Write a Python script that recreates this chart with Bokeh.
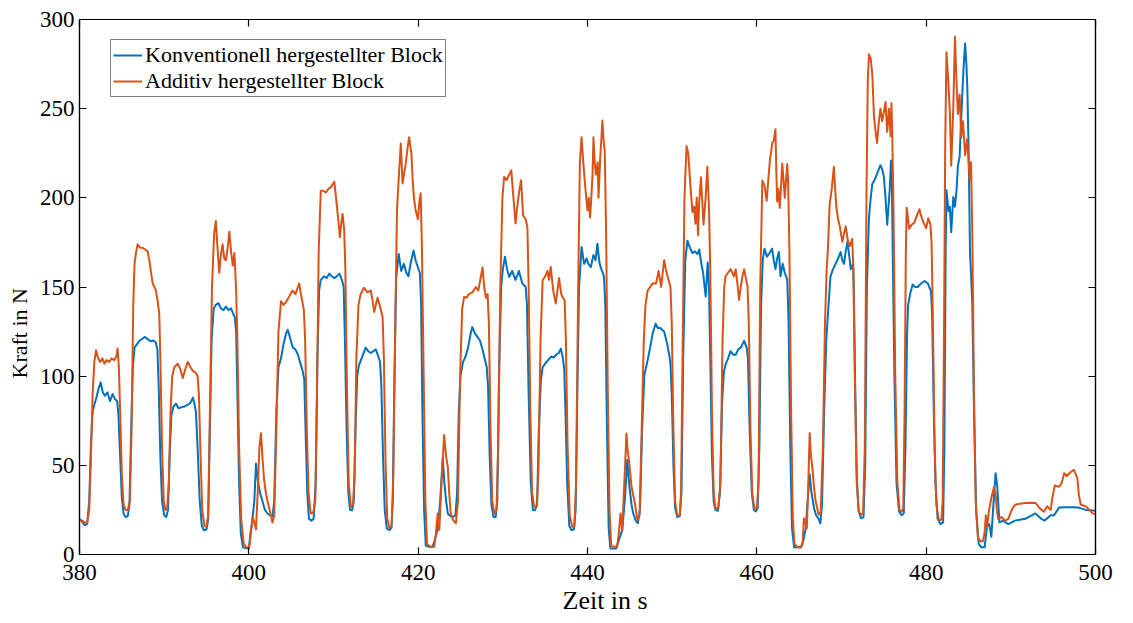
from bokeh.plotting import figure
from bokeh.models import Range1d, LinearAxis, Legend, LegendItem, FixedTicker, Title
from bokeh.embed import file_html
from bokeh.resources import INLINE

# ---------------- data ----------------
x_ticks = [380, 400, 420, 440, 460, 480, 500]
y_ticks = [0, 50, 100, 150, 200, 250, 300]

label_k = "Konventionell hergestellter Block"
label_a = "Additiv hergestellter Block"
x_title = "Zeit in s"
y_title = "Kraft in N"

# Konventionell hergestellter Block (blue): time in s
t_k = [380.0, 380.3, 380.6, 380.9, 381.15, 381.35, 381.55, 381.75, 382.0, 382.25, 382.5, 382.75, 383.0, 383.3, 383.6, 383.9, 384.2, 384.45, 384.6, 384.8, 385.0, 385.2, 385.45, 385.7, 385.9,
       386.1, 386.3, 386.5, 386.8, 387.1, 387.45, 387.7, 388.0, 388.4, 388.7, 389.0, 389.2, 389.35, 389.55, 389.75, 390.0, 390.25, 390.45,
       390.65, 390.85, 391.1, 391.4, 391.7, 392.0, 392.4, 392.8, 393.1, 393.4, 393.6, 393.75, 393.95, 394.2, 394.45, 394.7, 395.0, 395.2,
       395.4, 395.6, 395.85, 396.1, 396.4, 396.7, 397.0, 397.3, 397.6, 397.9, 398.15, 398.35, 398.5, 398.65, 398.85, 399.05, 399.3, 399.7, 400.0,
       400.2, 400.45, 400.65, 400.85, 401.05, 401.3, 401.6, 401.9, 402.2, 402.5, 402.8,
       403.0, 403.25, 403.5, 403.8, 404.1, 404.4, 404.6, 404.9, 405.2, 405.5, 405.8, 406.1, 406.35, 406.55, 406.7, 406.9, 407.1, 407.4, 407.65,
       407.9, 408.1, 408.3, 408.5, 408.9, 409.2, 409.5, 409.8, 410.1, 410.4, 410.7, 411.0, 411.2, 411.35, 411.55, 411.75, 411.95, 412.2,
       412.4, 412.6, 412.8, 413.0, 413.4, 413.8, 414.1, 414.4, 414.7, 415.0, 415.3, 415.5, 415.65, 415.85, 416.05, 416.3, 416.6, 416.85,
       417.0, 417.2, 417.4, 417.7, 418.0, 418.3, 418.6, 418.85, 419.1, 419.45, 419.7, 419.9, 420.2, 420.35, 420.5, 420.7, 420.9, 421.3, 421.7,
       421.95, 422.3, 422.6, 422.9, 423.1, 423.3, 423.5, 423.8, 424.1, 424.4,
       424.6, 424.8, 425.0, 425.3, 425.6, 425.9, 426.2, 426.4, 426.7, 427.0, 427.3, 427.6, 427.85, 428.1, 428.25, 428.45, 428.65, 428.9, 429.15,
       429.35, 429.55, 429.8, 430.0, 430.25, 430.5, 430.75, 431.1, 431.5, 431.9, 432.3, 432.7, 432.85, 433.05, 433.3, 433.55, 433.8,
       434.05, 434.25, 434.5, 434.7, 435.0, 435.35, 435.7, 436.0, 436.3, 436.6, 436.85, 437.1, 437.25, 437.4, 437.6, 437.85, 438.1, 438.4,
       438.6, 438.8, 439.0, 439.3, 439.6, 439.9, 440.1, 440.4, 440.7, 440.95, 441.17, 441.4, 441.56, 441.8, 441.95, 442.1, 442.3, 442.5, 442.7, 443.0, 443.4,
       443.7, 444.1, 444.4, 444.7, 444.95, 445.2, 445.4, 445.7, 445.95,
       446.2, 446.45, 446.7, 447.1, 447.4, 447.7, 448.05, 448.3, 448.6, 448.8, 449.05, 449.4, 449.65, 449.8, 449.95, 450.15, 450.35, 450.6, 450.9,
       451.1, 451.3, 451.55, 451.8, 452.1, 452.4, 452.7, 453.0, 453.2, 453.45, 453.65, 453.96, 454.2, 454.35, 454.5, 454.7, 454.9, 455.1, 455.4,
       455.65, 455.9, 456.1, 456.3, 456.6, 456.9, 457.2, 457.5, 457.8, 458.1, 458.5, 458.8, 458.95, 459.15, 459.4, 459.65, 459.9, 460.1,
       460.3, 460.5, 460.7, 460.9, 461.2, 461.5, 461.8, 462.0, 462.2, 462.4, 462.6, 462.8, 463.05, 463.3, 463.6, 463.75, 463.95, 464.15, 464.4, 464.8, 465.2,
       465.5, 465.77, 466.0, 466.24, 466.45, 466.75, 467.0, 467.3, 467.5,
       467.7, 467.95, 468.2, 468.4, 468.7, 469.0, 469.3, 469.6, 469.9, 470.1, 470.3, 470.5, 470.7, 470.9, 471.1, 471.37, 471.45, 471.6, 471.8, 472.0, 472.3, 472.6,
       472.8, 473.0, 473.24, 473.45, 473.64, 473.9, 474.2, 474.4, 474.6, 474.8, 475.0, 475.2, 475.4, 475.55, 475.7, 475.85, 475.95, 476.05, 476.25, 476.5, 476.8, 477.1, 477.35,
       477.55, 477.75, 477.86, 478.1, 478.4, 478.7, 479.0, 479.4, 479.8, 480.2, 480.57, 480.7, 480.9, 481.1, 481.35, 481.7, 482.0,
       482.15, 482.3, 482.4, 482.64, 482.8, 482.96, 483.2, 483.4, 483.6, 483.75, 483.95, 484.1, 484.22, 484.42, 484.6, 484.75, 484.86, 485.02, 485.18, 485.3, 485.45, 485.65, 485.9, 486.2, 486.5, 486.9,
       487.05, 487.2, 487.45, 487.7, 487.9, 488.2, 488.4, 488.65, 489.1, 489.7, 490.5, 491.7, 492.9, 493.6, 494.0, 494.7, 495.1, 495.7, 496.5, 497.3, 498.0, 498.85, 500.0]
# force in N
f_k = [20, 18.5, 16.5, 17, 30, 62, 80, 84, 88, 93, 96.5, 91, 89, 91, 86, 90, 87, 86, 78, 55, 32, 23, 21, 21.5, 28,
       70, 105, 116, 118, 120, 121, 122, 121, 119.5, 120, 119, 115, 95, 55, 30, 22, 21, 25,
       55, 78, 83, 84.5, 82, 82.5, 83, 84, 85, 88, 84, 80, 60, 30, 16, 13.6, 14, 20,
       70, 120, 138, 140, 141, 138, 137, 139, 137, 138, 135, 133, 125, 90, 40, 12, 4, 3.5, 3.5,
       12, 21, 30, 51, 42, 35, 30, 25, 23, 22, 21.5,
       30, 80, 105, 110, 118, 124, 126, 121, 116, 115, 112, 107, 103, 98, 70, 35, 20, 19, 20,
       40, 110, 148, 154, 156, 155, 157.5, 156, 155, 156, 157.5, 154, 150, 120, 70, 35, 25, 24.8,
       30, 70, 100, 106, 111, 116, 114, 113, 114, 115, 111, 108, 95, 55, 25, 14.5, 13.7, 15,
       30, 100, 155, 168.5, 159, 163, 158, 156, 163, 170.5, 165, 162, 158, 140, 80, 25, 5, 4.3, 4.3,
       8, 14, 30, 54, 40, 30, 23, 21.5, 21, 22,
       35, 80, 100, 108, 111, 116, 124, 127.5, 124, 122, 120, 115, 110, 105, 95, 55, 28, 21, 21,
       30, 100, 150, 160, 167, 160, 155.6, 159, 154, 159, 152, 150, 140, 90, 40, 25, 24.8,
       28, 70, 98, 105, 107, 109, 111, 110.5, 112, 113, 115.4, 110, 104, 80, 40, 16, 13.7, 14,
       25, 90, 150, 172.4, 163, 166, 163, 161.2, 168, 165, 174.3, 164, 161, 158, 155.6, 140, 70, 15, 3.4, 3.4, 3.4,
       8, 13.7, 30, 53, 38, 28, 23, 19, 17.5,
       25, 70, 100, 109, 116, 124, 129.5, 127, 127, 126, 125, 118.3, 112, 107, 90, 50, 26, 21, 21.5,
       35, 110, 165, 176, 172, 169, 170, 168.5, 171, 163, 158, 144.7, 163.8, 150, 110, 55, 30, 25, 24.5,
       35, 85, 102, 106.4, 110, 114, 112, 112, 115, 116, 119.8, 116, 110, 70, 35, 25, 24.2, 26,
       60, 140, 165, 171.5, 167, 169, 171.5, 165, 160, 166, 169.6, 156, 163, 158, 154, 130, 60, 15, 4, 4, 4,
       8, 14.6, 30, 45, 35, 26, 22, 20, 17.4,
       28, 80, 120, 135, 156, 160, 163, 166, 169.6, 165, 163, 170, 175.3, 168, 160, 163, 150, 100, 45, 25, 20.3, 21,
       50, 150, 188.7, 200, 207.8, 210, 213.5, 216, 218.3, 216, 212, 200, 184.9, 195, 205, 221, 208, 170, 100, 40, 24, 22, 23,
       60, 125, 139.6, 146, 151.4, 150, 150, 152, 153.4, 152, 147.5, 135, 80, 40, 20, 17, 18,
       60, 170, 204.3, 192.5, 195, 180.8, 200.4, 195, 205, 218, 223, 240, 253.3, 273, 286.6, 275, 262, 225.6, 169, 157.3, 140, 80, 25, 6, 4, 4,
       10, 16, 17, 10, 25, 45.6, 38, 18, 19, 17, 19, 20, 23, 20, 19, 22, 22, 26.3, 26.5, 26.5, 26.3, 25, 24.6]

# Additiv hergestellter Block (orange): time in s
t_a = [380.0, 380.3, 380.6, 380.9, 381.15, 381.35, 381.55, 381.75, 381.95, 382.2, 382.45, 382.7, 382.95, 383.2, 383.5, 383.8, 384.1, 384.35, 384.5, 384.65, 384.8, 385.0, 385.2, 385.45, 385.7,
       385.95, 386.15, 386.35, 386.5, 386.7, 386.87, 387.15, 387.45, 387.75, 388.05, 388.25, 388.45, 388.64, 388.85, 389.03, 389.2, 389.42, 389.55, 389.75, 389.95, 390.15, 390.35,
       390.55, 390.75, 390.95, 391.2, 391.6, 391.9, 392.2, 392.5, 392.8, 393.1, 393.4, 393.7, 393.95, 394.1, 394.3, 394.5, 394.75, 395.0,
       395.2, 395.4, 395.65, 395.9, 396.1, 396.3, 396.5, 396.7, 396.9, 397.1, 397.3, 397.5, 397.7, 397.9, 398.1, 398.3, 398.5, 398.65, 398.85, 399.1, 399.4, 399.7, 400.05,
       400.25, 400.45, 400.65, 400.84, 401.05, 401.25, 401.43, 401.6, 401.8, 402.0, 402.2, 402.5, 402.8,
       403.0, 403.25, 403.5, 403.8, 404.1, 404.4, 404.8, 405.17, 405.5, 405.95, 406.15, 406.35, 406.5, 406.65, 406.85, 407.05, 407.3, 407.6,
       407.85, 408.05, 408.25, 408.5, 408.8, 409.1, 409.4, 409.7, 410.1, 410.3, 410.45, 410.6, 410.75, 410.9, 411.07, 411.26, 411.4, 411.6, 411.8, 412.05, 412.3,
       412.5, 412.7, 412.95, 413.2, 413.6, 414.0, 414.4, 414.6, 414.8, 415.0, 415.2, 415.5, 415.8, 415.95, 416.15, 416.35, 416.6, 416.85,
       417.05, 417.3, 417.5, 417.75, 417.95, 418.15, 418.35, 418.5, 418.7, 418.93, 419.2, 419.35, 419.5, 419.7, 419.97, 420.15, 420.3, 420.45, 420.65, 420.85, 421.05, 421.4, 421.9,
       422.1, 422.3, 422.5, 422.75, 423.07, 423.3, 423.5, 423.7, 423.85, 424.15, 424.45,
       424.7, 424.95, 425.2, 425.43, 425.7, 426.0, 426.4, 426.8, 427.1, 427.4, 427.6, 427.8, 428.0, 428.2, 428.35, 428.55, 428.75, 429.0, 429.25,
       429.45, 429.7, 429.95, 430.15, 430.45, 430.74, 431.0, 431.2, 431.5, 431.7, 431.9, 432.15, 432.4, 432.7, 432.9, 433.05, 433.25, 433.45, 433.7, 434.0,
       434.2, 434.45, 434.7, 435.0, 435.27, 435.45, 435.66, 435.95, 436.25, 436.45, 436.64, 436.9, 437.1, 437.3, 437.45, 437.65, 437.9, 438.2, 438.45,
       438.65, 438.9, 439.1, 439.3, 439.5, 439.7, 440.0, 440.15, 440.3, 440.45, 440.6, 440.7, 440.85, 441.0, 441.2, 441.3, 441.5, 441.76, 441.9, 442.04, 442.2, 442.4, 442.6, 442.8, 443.2, 443.5,
       443.7, 443.9, 444.1, 444.35, 444.6, 444.75, 444.9, 445.2, 445.6, 445.9,
       446.15, 446.4, 446.65, 446.85, 447.1, 447.4, 447.7, 448.1, 448.4, 448.7, 449.05, 449.25, 449.4, 449.8, 449.95, 450.15, 450.35, 450.6, 450.9,
       451.05, 451.25, 451.45, 451.7, 451.9, 452.15, 452.4, 452.6, 452.75, 452.9, 453.05, 453.2, 453.4, 453.7, 453.95, 454.15, 454.35, 454.5, 454.7, 454.9, 455.1, 455.45,
       455.7, 455.95, 456.15, 456.3, 456.6, 456.9, 457.3, 457.5, 457.7, 457.9, 458.1, 458.3, 458.5, 458.7, 458.9, 459.05, 459.25, 459.45, 459.7, 460.0,
       460.2, 460.4, 460.65, 460.9, 461.16, 461.35, 461.55, 461.83, 462.0, 462.2, 462.3, 462.4, 462.55, 462.7, 462.85, 463.0, 463.15, 463.3, 463.45, 463.6, 463.7, 463.85, 464.05, 464.25, 464.45, 464.8, 465.2,
       465.4, 465.56, 465.9, 466.05, 466.24, 466.4, 466.55, 466.75, 466.94, 467.3, 467.55,
       467.8, 468.05, 468.25, 468.4, 468.6, 468.85, 469.1, 469.25, 469.4, 469.6, 469.8, 470.1, 470.3, 470.5, 470.75, 471.0, 471.27, 471.4, 471.6, 471.8, 472.05, 472.3, 472.55,
       472.75, 472.95, 473.1, 473.24, 473.45, 473.64, 473.83, 474.0, 474.2, 474.4, 474.6, 474.8, 475.0, 475.2, 475.4, 475.6, 475.8, 475.9, 476.0, 476.15, 476.35, 476.6, 476.85, 477.1, 477.3,
       477.45, 477.6, 477.7, 478.0, 478.3, 478.6, 478.9, 479.2, 479.4, 479.6, 479.8, 480.0, 480.25, 480.5, 480.64, 480.8, 481.0, 481.2, 481.5, 481.8,
       481.95, 482.1, 482.25, 482.4, 482.64, 482.8, 482.96, 483.2, 483.4, 483.6, 483.75, 483.95, 484.14, 484.35, 484.6, 484.85, 485.14, 485.3, 485.45, 485.65, 485.85, 486.1, 486.4, 486.7,
       486.9, 487.05, 487.2, 487.4, 487.7, 488.0, 488.2, 488.35, 488.5, 488.9, 489.3, 489.7, 490.1, 490.5, 491.1, 491.7, 492.3, 492.9, 493.4, 493.9, 494.3, 494.7,
       494.95, 495.2, 495.7, 496.0, 496.3, 496.6, 497.0, 497.45, 497.85, 498.05, 498.25, 498.85, 499.3, 499.6, 500.0]
# force in N
f_a = [19, 19, 18, 17.5, 25, 55, 90, 108, 114.5, 110, 108, 110, 107, 109, 108, 110, 109, 111, 115.5, 105, 80, 45, 28, 25, 25,
       30, 70, 140, 163, 170, 174, 172, 172, 171, 170, 165, 158, 152, 150, 148, 143, 135, 110, 60, 30, 25, 26,
       40, 80, 100, 105, 107, 104, 99, 104, 108, 105, 103, 102, 100, 90, 55, 25, 16, 15.5,
       22, 80, 150, 180, 187, 172, 158, 168, 174, 166, 165, 172, 181, 170, 162, 169, 148, 120, 60, 20, 6, 4, 4,
       12, 21, 18, 14, 35, 60, 68, 55, 42, 35, 30, 24, 18,
       22, 70, 125, 142, 140, 141.6, 145, 148, 146, 152, 146, 141, 137, 120, 70, 35, 23, 23.5,
       30, 90, 170, 204, 204, 203, 205, 206, 209, 200, 193, 186, 178, 185, 191, 182, 160, 90, 40, 26.7, 28,
       45, 110, 140, 146, 149.6, 147, 148, 143, 136, 140, 144, 139, 133, 110, 50, 20, 14.7, 16,
       40, 130, 193, 215, 230.5, 208, 214, 218, 226, 234, 225, 210, 200, 193, 188, 198, 202.5, 170, 100, 30, 6, 4.3, 4.3,
       12, 23, 13.7, 40, 67, 55, 49, 32, 23, 19, 17.5,
       30, 100, 138, 144.4, 144, 146, 147, 150, 148, 155.6, 161, 150, 144, 146, 130, 70, 30, 23, 25,
       60, 150, 200, 211.7, 210, 213, 215.4, 203, 185.7, 195, 202.5, 209.8, 190, 188, 183.6, 150, 80, 35, 26.7, 27,
       45, 120, 153.8, 156, 159, 154, 161.2, 148, 140.7, 148, 155, 146, 144, 142.5, 120, 60, 22, 15.5, 16,
       40, 150, 220, 234, 220, 208, 193, 200, 189, 200, 213.5, 234, 220, 213, 220, 200, 222, 243.4, 232, 226, 180, 90, 25, 5, 4.3, 4.3,
       12, 23, 13.7, 40, 67.8, 58, 52.9, 38, 28.6, 19.2,
       22, 70, 120, 140, 148, 150, 152, 152, 159, 150, 165, 160, 157, 150, 130, 70, 30, 22, 22,
       35, 120, 200, 229, 225, 207, 192, 195, 185.5, 200, 179, 198, 211.6, 185, 200, 217.4, 194.4, 160, 80, 35, 26, 26,
       40, 120, 150, 156, 158, 160, 156, 160, 152, 142.8, 150, 156, 160, 155, 150.4, 130, 70, 35, 26, 26,
       40, 150, 209.7, 207, 198.3, 210, 221.4, 230.8, 232, 238.4, 215, 198, 205, 194.4, 205, 219.3, 210, 200, 210, 219, 208, 170, 80, 20, 6, 4, 4,
       6, 20.3, 14.6, 35, 68.2, 55, 49, 38, 30, 22.3, 24,
       60, 130, 160, 171.5, 196.4, 205, 217.4, 205, 194.4, 188, 184, 175.3, 180, 184, 176, 173, 177, 160, 90, 40, 24, 22.3, 23,
       60, 200, 265, 280.5, 278, 269, 246, 238, 230.8, 242, 250, 243, 248, 253.7, 237, 250, 234.6, 253, 235.7, 190, 100, 40, 25, 24, 26,
       80, 170, 194.5, 182.7, 185, 186, 190, 193.6, 190, 187, 185, 183, 188.6, 185, 174.9, 130, 60, 28, 19.2, 19.5,
       30, 120, 230, 281.7, 263, 247.4, 218, 250, 290.5, 263, 247, 258, 233.7, 243, 223.9, 233, 210.2, 220, 180, 90, 30, 10, 7.4, 7.4,
       12, 22, 15, 24, 31.8, 37.7, 34, 25, 20, 21, 19, 20, 25, 27.9, 28.5, 28.9, 29, 28.9, 26, 24, 27, 25,
       33, 38.7, 38, 40, 45.6, 44, 46, 47.5, 43, 33, 28, 27, 25, 23.2, 22.5]

# ---------------- figure ----------------
BLUE = "#0072BD"
ORANGE = "#D95319"
FONT = "Liberation Serif"

p = figure(width=1133, height=623,
           x_range=Range1d(380, 500), y_range=Range1d(0, 300),
           output_backend="svg", toolbar_location=None,
           min_border_left=79, min_border_right=38, min_border_top=19, min_border_bottom=69)
p.xgrid.visible = False
p.ygrid.visible = False
p.outline_line_color = "black"
p.outline_line_width = 1.2
p.background_fill_color = "white"
p.border_fill_color = "white"

p.xaxis.ticker = FixedTicker(ticks=x_ticks)
p.yaxis.ticker = FixedTicker(ticks=y_ticks)

for ax in (p.xaxis[0], p.yaxis[0]):
    ax.major_tick_in = 7
    ax.major_tick_out = 0
    ax.minor_tick_line_color = None
    ax.axis_line_color = "black"
    ax.axis_line_width = 1.2
    ax.major_tick_line_color = "black"
    ax.major_tick_line_width = 1.2
    ax.major_label_text_font = FONT
    ax.major_label_text_font_size = "23px"
    ax.major_label_text_color = "black"

p.xaxis[0].major_label_standoff = 10
p.yaxis[0].major_label_standoff = 5

top_axis = LinearAxis(ticker=FixedTicker(ticks=x_ticks), major_tick_in=7, major_tick_out=0,
                      minor_tick_line_color=None, major_label_text_font_size="1px",
                      major_label_text_color=None,
                      major_label_standoff=0, axis_line_color="black", axis_line_width=1.2,
                      major_tick_line_color="black", major_tick_line_width=1.2)
right_axis = LinearAxis(ticker=FixedTicker(ticks=y_ticks), major_tick_in=7, major_tick_out=0,
                        minor_tick_line_color=None, major_label_text_font_size="1px",
                        major_label_text_color=None,
                        major_label_standoff=0, axis_line_color="black", axis_line_width=1.2,
                        major_tick_line_color="black", major_tick_line_width=1.2)
p.add_layout(top_axis, "above")
p.add_layout(right_axis, "right")

# axis titles as side-panel titles (placed slightly off-centre, as in the reference)
xt = Title(text=x_title, align="left", offset=483, standoff=3,
           text_font=FONT, text_font_size="26px", text_font_style="normal", text_color="black")
yt = Title(text=y_title, align="left", offset=176, standoff=9,
           text_font=FONT, text_font_size="22px", text_font_style="normal", text_color="black")
p.add_layout(xt, "below")
p.add_layout(yt, "left")

r_k = p.line(t_k, f_k, line_color=BLUE, line_width=2.0, line_join="round")
r_a = p.line(t_a, f_a, line_color=ORANGE, line_width=2.0, line_join="round")

legend = Legend(items=[LegendItem(label=label_k, renderers=[r_k]),
                       LegendItem(label=label_a, renderers=[r_a])],
                location=(31, 457))
legend.label_text_font = FONT
legend.label_text_font_size = "22px"
legend.label_text_color = "black"
legend.border_line_color = "black"
legend.border_line_width = 1.2
legend.background_fill_color = "white"
legend.background_fill_alpha = 1.0
legend.padding = 2
legend.spacing = 0
legend.margin = 0
legend.glyph_width = 29
legend.glyph_height = 22
legend.label_height = 22
legend.label_standoff = 3
p.add_layout(legend)

open("out.html", "w").write(file_html(p, INLINE))
